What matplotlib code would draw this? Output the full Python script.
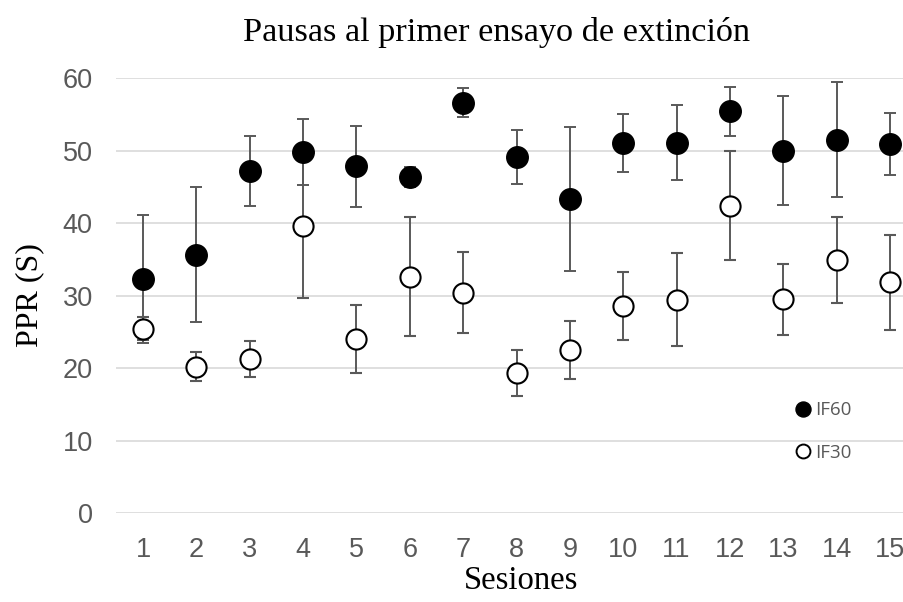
import matplotlib.pyplot as plt
from matplotlib.lines import Line2D

# sesiones y medias con su error (PPR en segundos)
sesiones = list(range(1, 16))
if60 = [32.3, 35.6, 47.2, 49.8, 47.8, 46.3, 56.6, 49.1, 43.3, 51.1, 51.1, 55.4, 50.0, 51.5, 50.9]
if60_err = [8.8, 9.3, 4.8, 4.6, 5.6, 1.4, 2.0, 3.7, 9.9, 4.0, 5.2, 3.4, 7.5, 7.9, 4.3]
if30 = [25.4, 20.2, 21.2, 39.6, 24.0, 32.6, 30.4, 19.3, 22.5, 28.5, 29.4, 42.4, 29.5, 34.9, 31.8]
if30_err = [1.6, 2.0, 2.5, 9.9, 4.7, 8.2, 5.6, 3.2, 4.0, 4.7, 6.4, 7.5, 4.9, 5.9, 6.5]
yticks = [0, 10, 20, 30, 40, 50, 60]

gris = '#595959'

fig = plt.figure(figsize=(9.04, 6.02), dpi=100)
ax = fig.add_axes([0.1287, 0.1478, 0.8853, 0.7226])

ax.errorbar(sesiones, if60, yerr=if60_err, fmt='o', color='black', ms=15.5,
            ecolor=gris, elinewidth=1.4, capsize=4.3, capthick=1.4, zorder=3)
ax.errorbar(sesiones, if30, yerr=if30_err, fmt='o', mfc='white', mec='black', mew=1.5,
            ms=14.5, ecolor=gris, elinewidth=1.4, capsize=4.3, capthick=1.4, zorder=3)

ax.set_xlim(0.5, 15.5)
ax.set_ylim(0, 60)
ax.set_xticks(sesiones)
ax.set_yticks(yticks)
ax.grid(axis='y', color='#d9d9d9', linewidth=1.2)
ax.set_axisbelow(True)
for s in ax.spines.values():
    s.set_visible(False)
ax.tick_params(length=0, labelsize=19.5, labelcolor=gris, pad=17)
for lab in ax.get_xticklabels() + ax.get_yticklabels():
    lab.set_fontfamily('Liberation Sans')

fig.text(0.549, 0.932, 'Pausas al primer ensayo de extinción', family='Liberation Serif',
         fontsize=24.7, ha='center', va='baseline')
ax.set_xlabel('Sesiones', family='Liberation Serif', fontsize=23.5)
ax.xaxis.set_label_coords(0.506, -0.12)
ax.set_ylabel('PPR (S)', family='Liberation Serif', fontsize=23)
ax.yaxis.set_label_coords(-0.09, 0.5)

handles = [
    Line2D([], [], ls='none', marker='o', color='black', ms=10.8),
    Line2D([], [], ls='none', marker='o', mfc='white', mec='black', mew=1.4, ms=10),
]
ax.legend(handles, ['IF60', 'IF30'], frameon=False, loc='center left',
          bbox_to_anchor=(0.849, 0.187), borderaxespad=0, borderpad=0,
          handlelength=0.8, handletextpad=0.25, labelspacing=1.3,
          prop={'family': 'Open Sans', 'size': 13.5}, labelcolor=gris)

plt.savefig('out.png', dpi=100)
